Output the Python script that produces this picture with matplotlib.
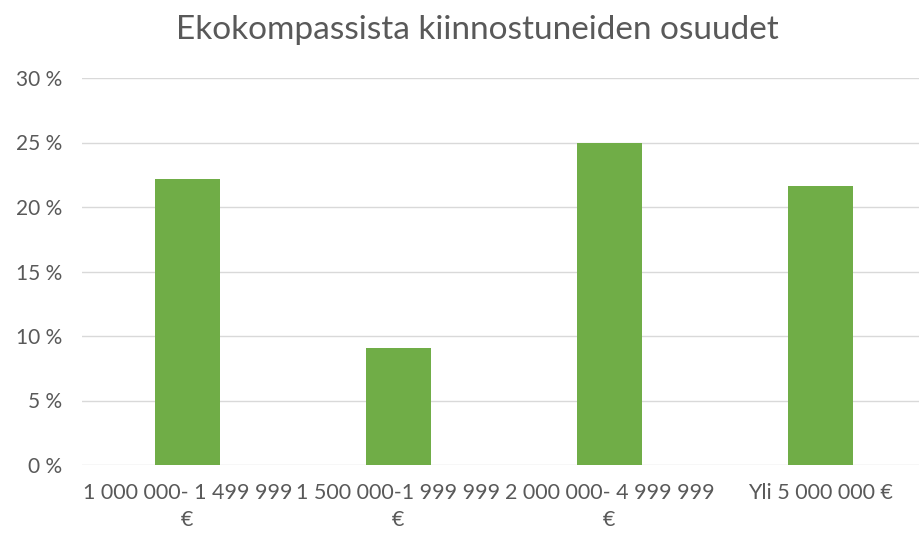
import matplotlib
matplotlib.use("Agg")
import matplotlib.pyplot as plt
from matplotlib.ticker import FuncFormatter

categories = ["1 000 000- 1 499 999\n€", "1 500 000-1 999 999\n€", "2 000 000- 4 999 999\n€", "Yli 5 000 000 €"]
values = [22.2, 9.1, 25.0, 21.6]
title = "Ekokompassista kiinnostuneiden osuudet"

plt.rcParams['font.family'] = ['Lato', 'DejaVu Sans']

fig = plt.figure(figsize=(9.2, 5.35), dpi=100)
ax = fig.add_axes([82/920, 70/535, 1 - 82/920, 387/535])

x = list(range(len(categories)))
ax.bar(x, values, width=0.31, color="#70ad47", zorder=3)
ax.set_xlim(-0.5, 3.5 - 6/211)
ax.set_ylim(0, 30)
ax.set_yticks([0, 5, 10, 15, 20, 25, 30])
ax.yaxis.set_major_formatter(FuncFormatter(lambda v, p: f"{int(v)} %"))
ax.grid(axis="y", color="#d9d9d9", linewidth=1, zorder=0)
for s in ax.spines.values():
    s.set_visible(False)
ax.set_xticks(x)
ax.set_xticklabels(categories, fontsize=15.5, color="#595959", linespacing=1.45)
ax.tick_params(axis="y", labelsize=15, colors="#595959", length=0, pad=14)
ax.tick_params(axis="x", length=0, pad=13)
fig.text(477/920, 1 - 30/535, title, ha="center", va="center", fontsize=24, color="#595959")

fig.savefig("out.png", dpi=100)
